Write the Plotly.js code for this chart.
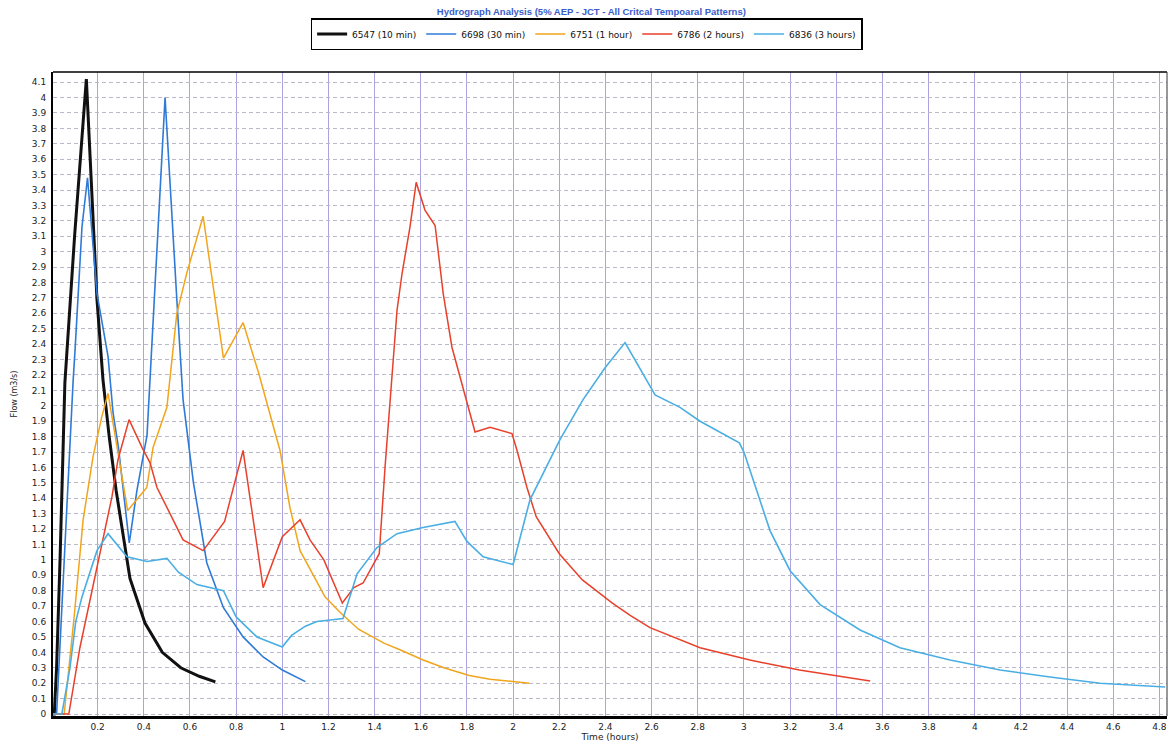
<!DOCTYPE html>
<html>
<head>
<meta charset="utf-8">
<script src="https://cdn.plot.ly/plotly-3.0.1.min.js"></script>
<style>
  html, body { margin: 0; padding: 0; background: #ffffff; }
  #chart { width: 1171px; height: 747px; }
</style>
</head>
<body>
<div id="chart"></div>
<script>
// ---------- Data ----------
const seriesNames = ["6547 (10 min)", "6698 (30 min)", "6751 (1 hour)", "6786 (2 hours)", "6836 (3 hours)"];

const t10min = [0, 0.012, 0.022, 0.037, 0.058, 0.10, 0.151, 0.197, 0.223, 0.25, 0.28, 0.34, 0.405, 0.48, 0.56, 0.64, 0.71];
const q10min = [0, 0, 0.3, 1.0, 2.15, 3.1, 4.12, 2.69, 2.17, 1.8, 1.45, 0.88, 0.59, 0.40, 0.30, 0.245, 0.208];

const t30min = [0, 0.022, 0.094, 0.102, 0.132, 0.156, 0.197, 0.245, 0.267, 0.29, 0.337, 0.37, 0.414, 0.492, 0.543, 0.57, 0.615, 0.673, 0.745, 0.83, 0.917, 1.0, 1.1];
const q30min = [0, 0, 2.17, 2.36, 3.16, 3.48, 2.73, 2.32, 1.95, 1.73, 1.11, 1.45, 1.81, 4.0, 2.69, 2.04, 1.5, 0.98, 0.69, 0.5, 0.37, 0.285, 0.21];

const t1hr = [0, 0.055, 0.1, 0.137, 0.18, 0.218, 0.245, 0.288, 0.33, 0.413, 0.44, 0.5, 0.543, 0.586, 0.657, 0.745, 0.83, 0.898, 0.99, 1.033, 1.077, 1.185, 1.25, 1.33, 1.44, 1.52, 1.61, 1.7, 1.81, 1.9, 2.0, 2.07];
const q1hr = [0, 0, 0.66, 1.26, 1.67, 1.93, 2.08, 1.71, 1.32, 1.47, 1.73, 1.99, 2.6, 2.86, 3.23, 2.31, 2.54, 2.21, 1.71, 1.34, 1.06, 0.76, 0.66, 0.55, 0.46, 0.41, 0.35, 0.3, 0.25, 0.225, 0.21, 0.2];

const t2hr = [0, 0.075, 0.123, 0.167, 0.21, 0.262, 0.288, 0.336, 0.392, 0.427, 0.457, 0.5, 0.57, 0.657, 0.75, 0.83, 0.917, 1.0, 1.077, 1.12, 1.18, 1.26, 1.31, 1.35, 1.42, 1.445, 1.475, 1.497, 1.519, 1.553, 1.58, 1.618, 1.662, 1.697, 1.735, 1.783, 1.835, 1.9, 1.995, 2.017, 2.06, 2.1, 2.2, 2.3, 2.43, 2.507, 2.593, 2.81, 3.026, 3.24, 3.46, 3.547];
const q2hr = [0, 0, 0.43, 0.74, 1.04, 1.41, 1.65, 1.91, 1.73, 1.63, 1.47, 1.34, 1.13, 1.06, 1.25, 1.71, 0.82, 1.15, 1.26, 1.13, 1.0, 0.72, 0.82, 0.85, 1.04, 1.6, 2.21, 2.62, 2.86, 3.16, 3.45, 3.27, 3.17, 2.73, 2.38, 2.12, 1.83, 1.86, 1.82, 1.71, 1.47, 1.28, 1.04, 0.87, 0.72, 0.64, 0.56, 0.43, 0.35, 0.285, 0.235, 0.214];

const t3hr = [0, 0.045, 0.08, 0.105, 0.132, 0.197, 0.245, 0.327, 0.414, 0.5, 0.55, 0.63, 0.745, 0.8, 0.89, 1.0, 1.04, 1.1, 1.15, 1.263, 1.324, 1.41, 1.497, 1.61, 1.748, 1.8, 1.87, 2.0, 2.073, 2.203, 2.303, 2.4, 2.485, 2.615, 2.723, 2.81, 2.98, 3.0, 3.113, 3.2, 3.33, 3.503, 3.676, 3.893, 4.11, 4.326, 4.543, 4.825];
const q3hr = [0, 0, 0.3, 0.6, 0.76, 1.06, 1.17, 1.02, 0.99, 1.01, 0.92, 0.84, 0.80, 0.63, 0.5, 0.435, 0.51, 0.57, 0.6, 0.62, 0.91, 1.08, 1.17, 1.21, 1.25, 1.12, 1.02, 0.97, 1.39, 1.78, 2.04, 2.25, 2.41, 2.07, 1.99, 1.9, 1.76, 1.70, 1.19, 0.93, 0.71, 0.545, 0.43, 0.35, 0.285, 0.24, 0.2, 0.175];

const xTickVals = [0.2, 0.4, 0.6, 0.8, 1, 1.2, 1.4, 1.6, 1.8, 2, 2.2, 2.4, 2.6, 2.8, 3, 3.2, 3.4, 3.6, 3.8, 4, 4.2, 4.4, 4.6, 4.8];
const xTickText = ["0.2","0.4","0.6","0.8","1","1.2","1.4","1.6","1.8","2","2.2","2.4","2.6","2.8","3","3.2","3.4","3.6","3.8","4","4.2","4.4","4.6","4.8"];
const yTickVals = [0,0.1,0.2,0.3,0.4,0.5,0.6,0.7,0.8,0.9,1,1.1,1.2,1.3,1.4,1.5,1.6,1.7,1.8,1.9,2,2.1,2.2,2.3,2.4,2.5,2.6,2.7,2.8,2.9,3,3.1,3.2,3.3,3.4,3.5,3.6,3.7,3.8,3.9,4,4.1];
const yTickText = ["0","0.1","0.2","0.3","0.4","0.5","0.6","0.7","0.8","0.9","1","1.1","1.2","1.3","1.4","1.5","1.6","1.7","1.8","1.9","2","2.1","2.2","2.3","2.4","2.5","2.6","2.7","2.8","2.9","3","3.1","3.2","3.3","3.4","3.5","3.6","3.7","3.8","3.9","4","4.1"];

// ---------- Traces ----------
const traces = [
  {x: t10min, y: q10min, name: seriesNames[0], mode: "lines", line: {color: "#111111", width: 3}},
  {x: t30min, y: q30min, name: seriesNames[1], mode: "lines", line: {color: "#2f7ad6", width: 1.6}},
  {x: t1hr,   y: q1hr,   name: seriesNames[2], mode: "lines", line: {color: "#f2a51c", width: 1.5}},
  {x: t2hr,   y: q2hr,   name: seriesNames[3], mode: "lines", line: {color: "#e8402a", width: 1.5}},
  {x: t3hr,   y: q3hr,   name: seriesNames[4], mode: "lines", line: {color: "#4aaee3", width: 1.6}}
];

const tickFont = {family: "DejaVu Sans, sans-serif", size: 9, color: "#222222"};

const layout = {
  width: 1171, height: 747,
  paper_bgcolor: "#ffffff", plot_bgcolor: "#ffffff",
  margin: {l: 53, r: 4, t: 72, b: 31},
  title: {
    text: "<b>Hydrograph Analysis (5% AEP - JCT - All Critcal Tempoaral Patterns)</b>",
    font: {family: "Liberation Sans, Arial, sans-serif", size: 9.5, color: "#3a5ccc"},
    x: 0.505, xanchor: "center", y: 0.984, yanchor: "middle"
  },
  showlegend: true,
  legend: {
    orientation: "h", x: 0.479, xanchor: "center", y: 1.059, yanchor: "middle",
    bordercolor: "#000000", borderwidth: 1.5, bgcolor: "#ffffff",
    font: {family: "DejaVu Sans, sans-serif", size: 9, color: "#111111"},
    itemwidth: 30, tracegroupgap: 0
  },
  xaxis: {
    range: [0.0065, 4.833], tickmode: "array", tickvals: xTickVals, ticktext: xTickText,
    showgrid: true, gridcolor: "#aaa3e2", gridwidth: 1,
    zeroline: false, showline: true, linecolor: "#000000", linewidth: 3,
    ticks: "", tickfont: tickFont,
    title: {text: "Time (hours)", font: {family: "DejaVu Sans, sans-serif", size: 9, color: "#222222"}, standoff: 2}
  },
  yaxis: {
    range: [-0.013, 4.166], tickmode: "array", tickvals: yTickVals, ticktext: yTickText,
    showgrid: true, gridcolor: "#b9b9c9", gridwidth: 1, griddash: "4px,3px",
    zeroline: false, showline: true, linecolor: "#000000", linewidth: 2,
    ticks: "", tickfont: tickFont, ticklabelstandoff: 3,
    title: {text: "Flow (m3/s)", font: {family: "DejaVu Sans, sans-serif", size: 8, color: "#222222"}, standoff: 13}
  },
  shapes: [
    {type: "line", xref: "paper", yref: "paper", x0: 0, x1: 1, y0: 1, y1: 1, line: {color: "#000000", width: 1.5}},
    {type: "line", xref: "paper", yref: "paper", x0: 1, x1: 1, y0: 0, y1: 1, line: {color: "#333333", width: 1}}
  ]
};

Plotly.newPlot("chart", traces, layout, {displayModeBar: false, staticPlot: true});
</script>
</body>
</html>
